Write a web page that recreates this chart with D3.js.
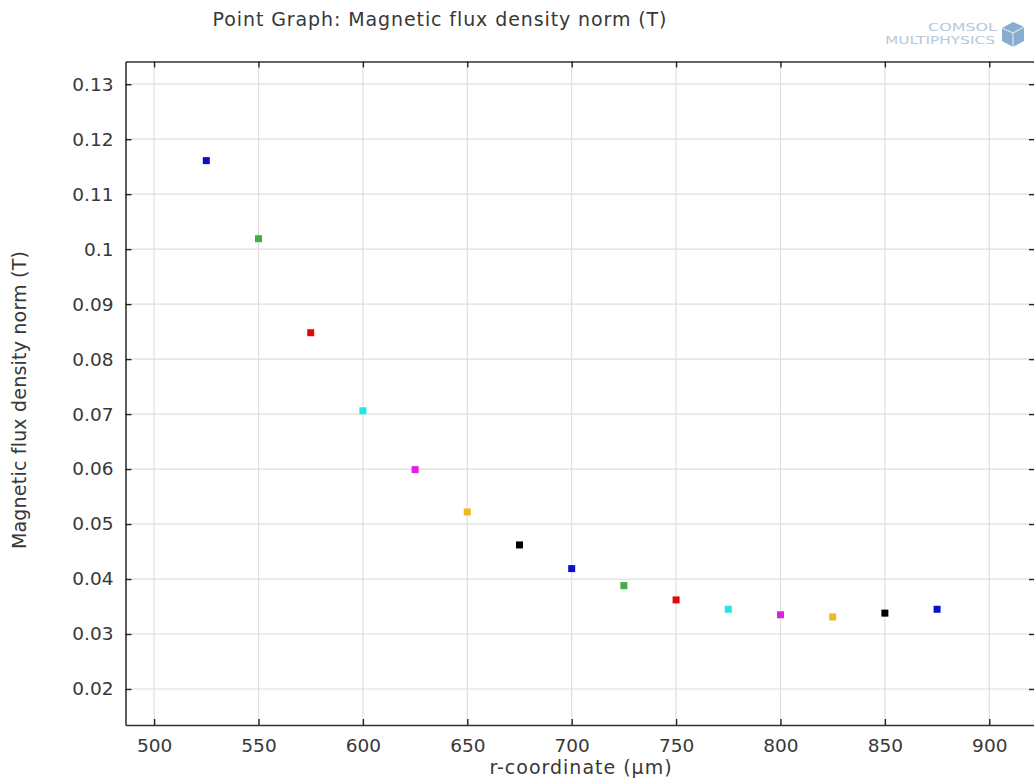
<!DOCTYPE html>
<html>
<head>
<meta charset="utf-8">
<script src="https://cdn.jsdelivr.net/npm/d3@7"></script>
<style>
  body { margin: 0; background: #fff; }
  text { font-family: "DejaVu Sans", sans-serif; fill: #383838; }
</style>
</head>
<body>
<script>
// canvas
const width = 1034;
const height = 781;

// data
const rCoord = [525, 550, 575, 600, 625, 650, 675, 700, 725, 750, 775, 800, 825, 850, 875];
const fluxNorm = [0.1161, 0.1019, 0.0848, 0.0706, 0.0599, 0.0522, 0.0462, 0.0419, 0.0388, 0.0362, 0.0345, 0.0335, 0.0331, 0.0338, 0.0345];
const xTicks = [500, 550, 600, 650, 700, 750, 800, 850, 900];
const yTicks = [0.02, 0.03, 0.04, 0.05, 0.06, 0.07, 0.08, 0.09, 0.1, 0.11, 0.12, 0.13];
const colorCycle = ['#0a10c8', '#3fae48', '#e00808', '#22e6e6', '#e020e0', '#f2b824', '#000000'];

// plot area
const plot = {left: 125.5, right: 1035, top: 61.5, bottom: 725};

const xScale = d3.scaleLinear()
    .domain([486.3, 921.9])
    .range([plot.left, plot.right]);

const yScale = d3.scaleLinear()
    .domain([0.01345, 0.13413])
    .range([plot.bottom, plot.top]);

let svg = d3.select('body')
    .append('svg')
    .attr('width', width)
    .attr('height', height);

// grid
svg.append('g')
    .selectAll('line')
    .data(xTicks)
    .enter()
    .append('line')
    .attr('x1', d => xScale(d)).attr('x2', d => xScale(d))
    .attr('y1', plot.top).attr('y2', plot.bottom)
    .attr('stroke', '#dedede').attr('stroke-width', 1.2);

svg.append('g')
    .selectAll('line')
    .data(yTicks)
    .enter()
    .append('line')
    .attr('x1', plot.left).attr('x2', plot.right)
    .attr('y1', d => yScale(d)).attr('y2', d => yScale(d))
    .attr('stroke', '#dedede').attr('stroke-width', 1.2);

// axes (ticks pointing inward)
const xAxis = d3.axisBottom(xScale).tickValues(xTicks).tickSizeInner(-6).tickSizeOuter(0).tickPadding(14);
const yAxis = d3.axisLeft(yScale).tickValues(yTicks).tickSizeInner(-6).tickSizeOuter(0).tickPadding(12)
    .tickFormat(d => String(+d.toFixed(2)));

svg.append('g')
    .attr('transform', 'translate(0,' + plot.bottom + ')')
    .call(xAxis);
svg.append('g')
    .attr('transform', 'translate(' + plot.left + ',0)')
    .call(yAxis);

svg.append('g')
    .attr('transform', 'translate(0,' + plot.top + ')')
    .call(d3.axisTop(xScale).tickValues(xTicks).tickSizeInner(-6).tickSizeOuter(0).tickFormat(''));
svg.append('g')
    .attr('transform', 'translate(' + plot.right + ',0)')
    .call(d3.axisRight(yScale).tickValues(yTicks).tickSizeInner(-6).tickSizeOuter(0).tickFormat(''));

svg.selectAll('.domain').attr('stroke', '#333').attr('stroke-width', 1.6);
svg.selectAll('.tick line').attr('stroke', '#222').attr('stroke-width', 1.4);
svg.selectAll('.tick text')
    .style('font-family', '"DejaVu Sans", sans-serif')
    .style('font-size', '18.5px')
    .attr('fill', '#383838');

// points
svg.append('g')
    .selectAll('rect')
    .data(rCoord)
    .enter()
    .append('rect')
    .attr('x', d => xScale(d) - 3.5)
    .attr('y', (d, i) => yScale(fluxNorm[i]) - 3.5)
    .attr('width', 7)
    .attr('height', 7)
    .attr('fill', (d, i) => colorCycle[i % colorCycle.length]);

// labels
svg.append('text')
    .attr('x', 440).attr('y', 26)
    .attr('text-anchor', 'middle')
    .style('font-size', '19px')
    .style('letter-spacing', '0.9px')
    .text('Point Graph: Magnetic flux density norm (T)');

svg.append('text')
    .attr('x', 581).attr('y', 774)
    .attr('text-anchor', 'middle')
    .style('font-size', '19px')
    .style('letter-spacing', '1px')
    .text('r-coordinate (µm)');

svg.append('text')
    .attr('transform', 'translate(26,400) rotate(-90)')
    .attr('text-anchor', 'middle')
    .style('font-size', '19px')
    .style('letter-spacing', '0.2px')
    .text('Magnetic flux density norm (T)');

// logo
const logo = svg.append('g');
logo.append('text')
    .attr('x', 928).attr('y', 31)
    .attr('textLength', 69).attr('lengthAdjust', 'spacingAndGlyphs')
    .style('font-size', '10px')
    .style('fill', '#b8c8d8')
    .text('COMSOL');
logo.append('text')
    .attr('x', 885).attr('y', 44)
    .attr('textLength', 110).attr('lengthAdjust', 'spacingAndGlyphs')
    .style('font-size', '10px')
    .style('fill', '#b8c8d8')
    .text('MULTIPHYSICS');
logo.append('path')
    .attr('d', 'M1002,28 L1013,22 L1024,27 L1024,41 L1013,47 L1002,41 Z')
    .attr('fill', '#86acd0');
logo.append('path')
    .attr('d', 'M1002,28 L1013,33 L1024,27 M1013,33 L1013,47')
    .attr('fill', 'none').attr('stroke', '#d6e4ef').attr('stroke-width', 1.2);
</script>
</body>
</html>
